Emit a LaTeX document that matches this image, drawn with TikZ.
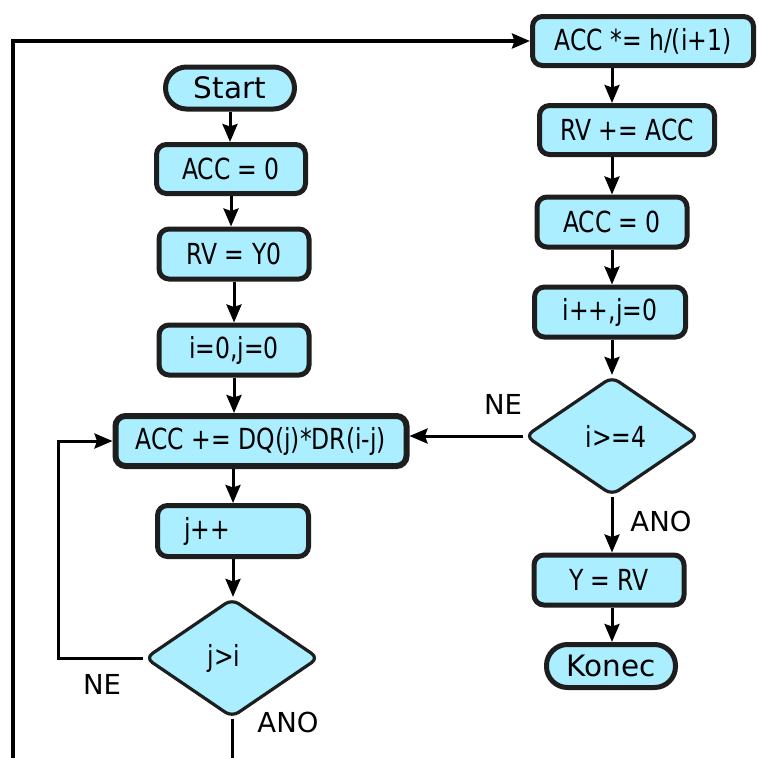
\documentclass[tikz,border=0pt]{standalone}
\usepackage{fontspec}
\setmainfont{DejaVu Sans}
\newfontfamily\condf[FakeStretch=0.9]{DejaVu Sans Condensed}
\usetikzlibrary{shapes.geometric,arrows.meta}
\definecolor{boxfill}{RGB}{170,238,255}
\definecolor{edgec}{RGB}{30,30,30}
\begin{document}
\begin{tikzpicture}[x=1pt,y=-1pt,
 base/.style={draw=edgec, fill=boxfill, inner sep=0pt, font=\condf\fontsize{29}{32}\selectfont},
 proc/.style={base, rectangle, rounded corners=10pt, line width=5pt},
 term/.style={base, rectangle, rounded corners=21pt, line width=5pt, font=\fontsize{29.5}{33}\selectfont},
 dec/.style={base, diamond, rounded corners=8pt, line width=3.2pt},
 arr/.style={line width=3pt, -{Stealth[length=18pt,width=15pt,inset=2.5pt]}},
 ln/.style={line width=3pt},
 lbl/.style={font=\fontsize{27.5}{31}\selectfont}]
\useasboundingbox (0,0) rectangle (758,758);
% left column
\node[term, minimum width=129pt, minimum height=42pt] (start) at (230,88) {Start};
\node[proc, minimum width=149pt, minimum height=49pt] (acc0) at (231,169) {ACC = 0};
\node[proc, minimum width=150pt, minimum height=50pt] (rv) at (234,254) {RV = Y0};
\node[proc, minimum width=150pt, minimum height=50pt] (ij) at (234,350) {i=0,j=0};
\node[proc, line width=6pt, minimum width=291pt, minimum height=50pt] (accp) at (261,441) {ACC += DQ(j)*DR(i-j)};
\node[proc, minimum width=151pt, minimum height=51pt] (jpp) at (233,531) {j++\hspace*{52pt}};
\node[dec, minimum width=174pt, minimum height=119pt] (ji) at (232,658) {j>i\hspace*{16pt}};
% right column
\node[proc, minimum width=221pt, minimum height=49pt] (accm) at (643,41) {ACC *= h/(i+1)};
\node[proc, minimum width=175pt, minimum height=49pt] (rvp) at (627,130) {RV += ACC};
\node[proc, minimum width=150pt, minimum height=50pt] (acc3) at (612,222) {ACC = 0};
\node[proc, minimum width=151pt, minimum height=50pt] (ipp) at (610,312) {i++,j=0};
\node[dec, minimum width=174pt, minimum height=119pt] (i4) at (612,436) {\hspace*{8pt}i>=4};
\node[proc, minimum width=150pt, minimum height=50pt] (y) at (609,580) {Y = RV};
\node[term, minimum width=129pt, minimum height=43pt] (konec) at (611,666) {Konec};
% helper coordinates
\coordinate (rx) at (612,0);
\coordinate (lp) at (58,441);
\coordinate (bot) at (0,758);
\coordinate (ob) at (13,758);
% left arrows
\draw[arr] (start.south) -- (start.south |- acc0.north);
\draw[arr] (acc0.south) -- (acc0.south |- rv.north);
\draw[arr] (rv.south) -- (rv.south |- ij.north);
\draw[arr] (ij.south) -- (ij.south |- accp.north);
\draw[arr] (accp.south -| jpp) -- (jpp.north);
\draw[arr] (jpp.south) -- (jpp.south |- ji.north);
\draw[arr] (ji.west) -- (ji.west -| lp) |- (accp.west);
\draw[ln] (ji.south) -- (ji.south |- bot);
% outer loop
\draw[arr, line width=3.3pt] (ob) |- (accm.west);
% right arrows
\draw[arr] (accm.south -| rx) -- (rvp.north -| rx);
\draw[arr] (rvp.south -| rx) -- (acc3.north -| rx);
\draw[arr] (acc3.south -| rx) -- (ipp.north -| rx);
\draw[arr] (ipp.south -| rx) -- (i4.north);
\draw[arr] (i4.west) -- (i4.west -| accp.east);
\draw[arr] (i4.south) -- (y.north -| i4);
\draw[arr] (y.south -| i4) -- (konec.north -| i4);
% labels
\node[lbl] (ne1) at (102,684) {NE};
\node[lbl] (ano1) at (288,722) {ANO};
\node[lbl] (ne2) at (503,404) {NE};
\node[lbl] (ano2) at (661,521) {ANO};
\end{tikzpicture}
\end{document}
